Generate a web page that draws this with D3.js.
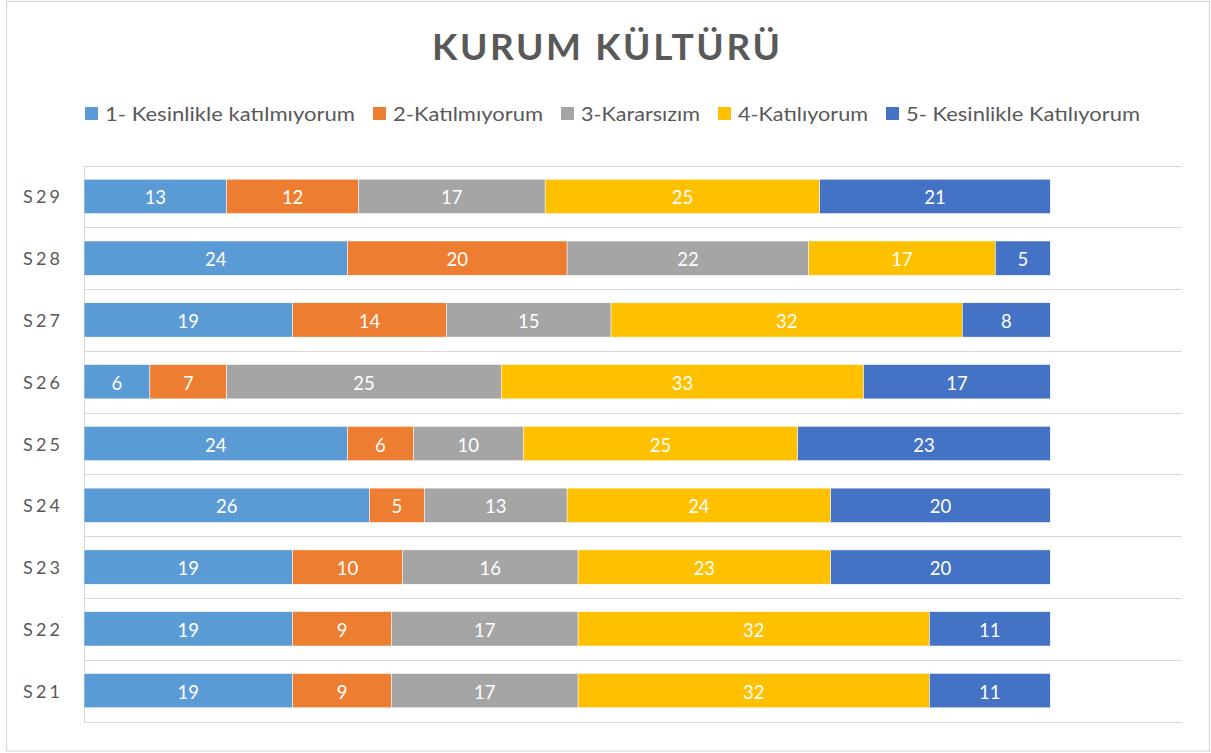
<!DOCTYPE html>
<meta charset="utf-8">
<style>
body { margin: 0; background: #fff; }
svg text { font-family: Lato, "Open Sans", sans-serif; fill: #595959; }
.grid line { stroke: #d9d9d9; stroke-width: 1; shape-rendering: crispEdges; }
.seg { stroke: #fff; stroke-width: 0.5; }
.val { fill: #fff; font-size: 18.5px; }
</style>
<body>
<div id="chart"></div>
<script src="https://cdn.jsdelivr.net/npm/d3@7"></script>
<script>
// survey answers per question, counted per answer level
var categories = ["S29", "S28", "S27", "S26", "S25", "S24", "S23", "S22", "S21"];
var seriesNames = ["1- Kesinlikle katılmıyorum", "2-Katılmıyorum", "3-Kararsızım", "4-Katılıyorum", "5- Kesinlikle Katılıyorum"];
var kesinlikleKatilmiyorum = [13, 24, 19, 6, 24, 26, 19, 19, 19];
var katilmiyorum = [12, 20, 14, 7, 6, 5, 10, 9, 9];
var kararsizim = [17, 22, 15, 25, 10, 13, 16, 17, 17];
var katiliyorum = [25, 17, 32, 33, 25, 24, 23, 32, 32];
var kesinlikleKatiliyorum = [21, 5, 8, 17, 23, 20, 20, 11, 11];
var xDomain = [0, 100];

var colors = ["#5b9bd5", "#ed7d31", "#a5a5a5", "#ffc000", "#4472c4"];
var allSeries = [kesinlikleKatilmiyorum, katilmiyorum, kararsizim, katiliyorum, kesinlikleKatiliyorum];

var width = 1211, height = 753;

var rows = categories.map(function(c, i) {
    var r = {cat: c};
    seriesNames.forEach(function(s, k) { r[s] = allSeries[k][i]; });
    return r;
});

var svg = d3.select("#chart").append("svg")
    .attr("width", width)
    .attr("height", height);

// chart border
svg.append("rect")
    .attr("x", 6.5).attr("y", 1.5)
    .attr("width", 1203).attr("height", 749.5)
    .attr("fill", "#fff")
    .attr("stroke", "#d9d9d9")
    .attr("stroke-width", 1.3);

var x = d3.scaleLinear().domain(xDomain).range([84, 1182]);
var y = d3.scaleBand().domain(categories).range([165.5, 721.5])
    .paddingInner(0.8 / 1.8).paddingOuter(0.4 / 1.8);

// title
svg.append("text")
    .attr("x", 606).attr("y", 60)
    .attr("text-anchor", "middle")
    .attr("textLength", 348)
    .attr("lengthAdjust", "spacing")
    .style("font-size", "37px")
    .style("font-weight", "bold")
    .text("KURUM KÜLTÜRÜ");

// legend
var legendWidths = [250, 150, 119, 130, 234];
var lx = 85;
var legend = svg.append("g");
seriesNames.forEach(function(s, k) {
    legend.append("rect")
        .attr("x", lx).attr("y", 107)
        .attr("width", 13).attr("height", 13)
        .attr("fill", colors[k]);
    legend.append("text")
        .attr("x", lx + 20).attr("y", 121)
        .attr("textLength", legendWidths[k])
        .attr("lengthAdjust", "spacingAndGlyphs")
        .style("font-size", "19px")
        .text(s);
    lx += 20 + legendWidths[k] + 18;
});

// gridlines between categories
var step = y.step();
var gridY = d3.range(categories.length + 1).map(function(i) { return y.range()[0] + i * step; });
svg.append("g").attr("class", "grid")
    .selectAll("line").data(gridY).enter().append("line")
    .attr("x1", x(0)).attr("x2", x(xDomain[1]))
    .attr("y1", function(d) { return Math.round(d) + 0.5; })
    .attr("y2", function(d) { return Math.round(d) + 0.5; });

svg.append("g").attr("class", "grid").append("line")
    .attr("x1", x(0) + 0.5).attr("x2", x(0) + 0.5)
    .attr("y1", y.range()[0]).attr("y2", y.range()[1]);

// stacked bars
var stack = d3.stack().keys(seriesNames);
var layers = stack(rows);

var g = svg.append("g");
layers.forEach(function(layer, k) {
    var lg = g.append("g");
    lg.selectAll("rect").data(layer).enter().append("rect")
        .attr("class", "seg")
        .attr("x", function(d) { return x(d[0]); })
        .attr("y", function(d) { return y(d.data.cat); })
        .attr("width", function(d) { return x(d[1]) - x(d[0]); })
        .attr("height", y.bandwidth())
        .attr("fill", colors[k]);
    lg.selectAll("text").data(layer).enter().append("text")
        .attr("class", "val")
        .attr("x", function(d) { return (x(d[0]) + x(d[1])) / 2; })
        .attr("y", function(d) { return y(d.data.cat) + y.bandwidth() / 2 + 8; })
        .attr("text-anchor", "middle")
        .text(function(d) { return d[1] - d[0]; });
});

// category labels
svg.append("g").selectAll("text").data(categories).enter().append("text")
    .attr("x", 23)
    .attr("y", function(d) { return y(d) + y.bandwidth() / 2 + 7; })
    .attr("textLength", 37)
    .attr("lengthAdjust", "spacing")
    .style("font-size", "18px")
    .text(function(d) { return d; });
</script>
